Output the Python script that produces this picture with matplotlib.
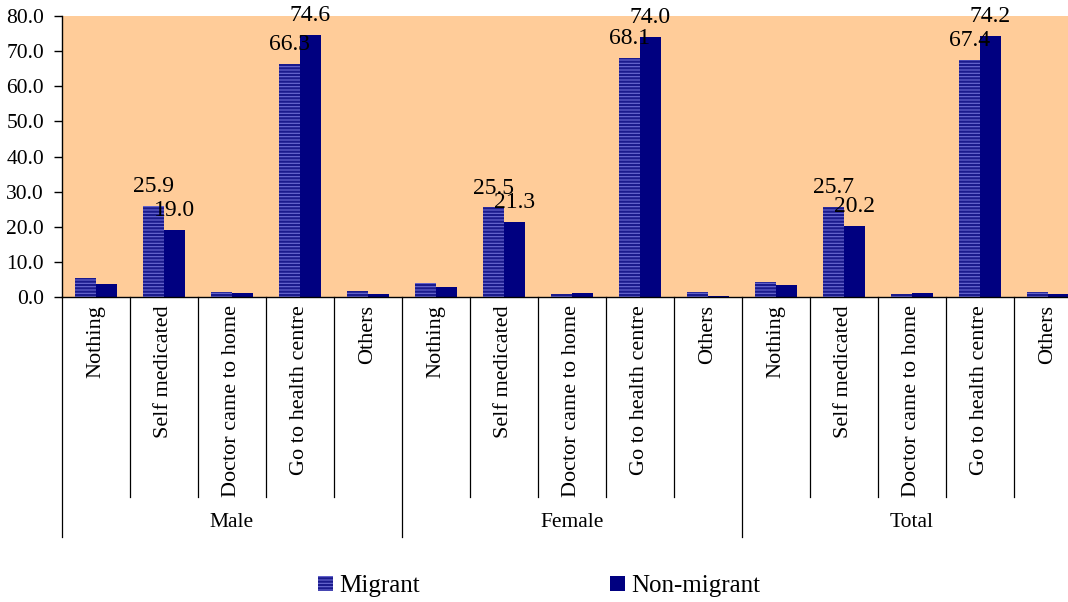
import matplotlib
matplotlib.use("Agg")
import matplotlib.pyplot as plt
from matplotlib.patches import Patch

plt.rcParams['font.family'] = ['Liberation Serif', 'DejaVu Serif']
plt.rcParams['hatch.linewidth'] = 1.6
plt.rcParams['hatch.color'] = '#1a1a8c'

groups = ['Male', 'Female', 'Total']
actions = ['Nothing', 'Self medicated', 'Doctor came to home',
           'Go to health centre', 'Others']

# values per group, in action order
migrant = [5.4, 25.9, 1.3, 66.3, 1.6,
           4.0, 25.5, 0.8, 68.1, 1.3,
           4.2, 25.7, 0.8, 67.4, 1.3]
non_migrant = [3.6, 19.0, 1.0, 74.6, 0.8,
               2.9, 21.3, 1.2, 74.0, 0.3,
               3.3, 20.2, 1.0, 74.2, 0.8]
labelled = ['Self medicated', 'Go to health centre']

fig = plt.figure(figsize=(10.68, 6.02), dpi=100)
ax = fig.add_axes([62 / 1068, 305 / 602, 1020 / 1068, 281 / 602])
ax.set_facecolor('#FFCC99')

n = len(migrant)
xs = list(range(n))
w = 0.31
ax.bar([x - w / 2 for x in xs], migrant, w, color='#6a6ad2',
       hatch='-----', edgecolor='#1a1a8c', linewidth=0, label='Migrant')
ax.bar([x + w / 2 for x in xs], non_migrant, w, color='#000080',
       linewidth=0, label='Non-migrant')

cats = actions * len(groups)
for i, c in enumerate(cats):
    if c in labelled:
        ax.annotate('%.1f' % migrant[i], (i - w / 2, migrant[i]),
                    xytext=(0, 10), textcoords='offset points',
                    ha='center', va='baseline', fontsize=17)
        ax.annotate('%.1f' % non_migrant[i], (i + w / 2, non_migrant[i]),
                    xytext=(0, 10), textcoords='offset points',
                    ha='center', va='baseline', fontsize=17)

ax.set_xlim(-0.5, n - 0.5)
ax.set_ylim(0, 80)
ax.set_yticks(range(0, 81, 10))
ax.set_yticklabels(['%.1f' % v for v in range(0, 81, 10)], fontsize=15.5)
ax.tick_params(axis='y', direction='out', length=6, width=1, pad=7)

ax.set_xticks(xs)
ax.set_xticklabels(cats, rotation=90, fontsize=16, va='top')
ax.tick_params(axis='x', length=0, pad=6)

for s in ['top', 'right']:
    ax.spines[s].set_visible(False)
ax.spines['left'].set_linewidth(1)
ax.spines['bottom'].set_linewidth(1)

# separators below the axis
trans = ax.get_xaxis_transform()
na = len(actions)
for k in range(n + 1):
    x = k - 0.5
    bottom = -0.854 if k % na == 0 else -0.712
    ax.plot([x, x], [0, bottom], color='black', lw=0.9,
            transform=trans, clip_on=False)

for g, name in enumerate(groups):
    ax.text(g * na + (na - 1) / 2, -0.804, name, transform=trans,
            ha='center', va='center', fontsize=15.5)

handles = [Patch(facecolor='#6a6ad2', hatch='-----', edgecolor='#1a1a8c',
                 linewidth=0, label='Migrant'),
           Patch(facecolor='#000080', linewidth=0, label='Non-migrant')]
fig.legend(handles=handles, loc='center', bbox_to_anchor=(0.505, 0.026),
           ncol=2, frameon=False, fontsize=18, handlelength=0.6,
           handleheight=0.6, handletextpad=0.25, columnspacing=7.6)

fig.savefig('out.png', dpi=100)
